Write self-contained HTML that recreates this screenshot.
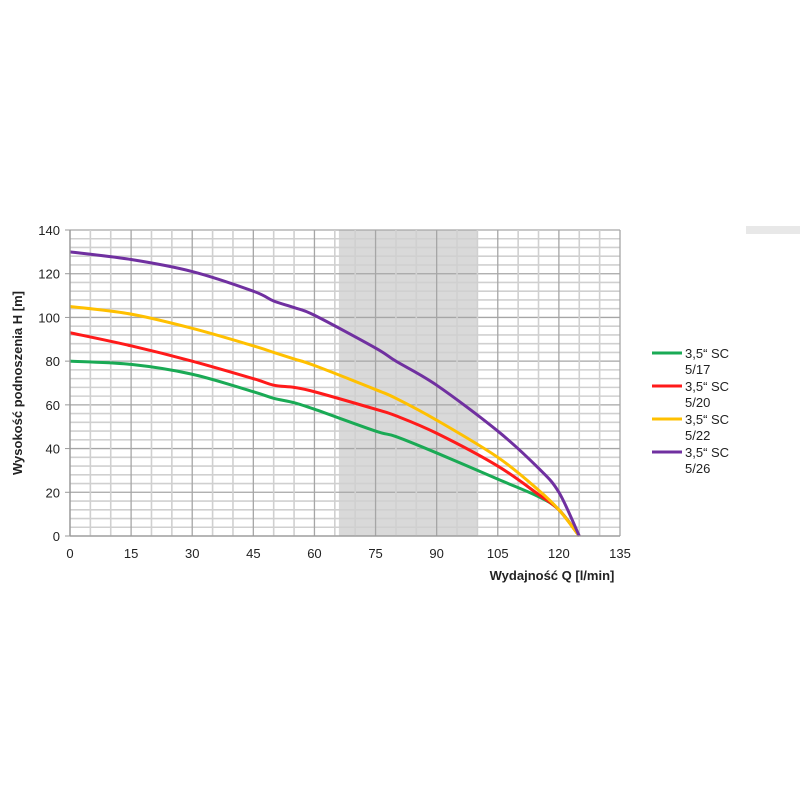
<!DOCTYPE html>
<html><head><meta charset="utf-8"><style>
body{margin:0;background:#fff;font-family:"Liberation Sans",sans-serif}
svg text{font-family:"Liberation Sans",sans-serif}
</style></head><body>
<svg width="800" height="800" viewBox="0 0 800 800">
<rect x="746" y="226" width="54" height="8" fill="#e8e8e8"/>
<g id="grid"></g><g id="series"></g><g id="axes"></g>
<text x="552" y="580" font-size="13" font-weight="bold" text-anchor="middle" fill="#222">Wydajność Q [l/min]</text>
<text transform="translate(22,383) rotate(-90)" font-size="13" font-weight="bold" text-anchor="middle" fill="#222">Wysokość podnoszenia H [m]</text>
<g id="legend"></g>
</svg>
<script>
const qValues=[0,15,30,45,50,55,60,75,80,90,105,115,120,125];
const names=["3,5“ SC|5/17","3,5“ SC|5/20","3,5“ SC|5/22","3,5“ SC|5/26"];
const colors=["#1aaa55","#ff1a1a","#ffc000","#7030a0"];
const green=[80,78.5,74,66,63,61,58,48,45.5,38,26,18,12,0];
const red=[93,87,80,72,69,68,66,58,55,47,32,19,12,0];
const yellow=[105,101.5,95,87,84,81,78,67,63,53,36,21,12,0];
const purple=[130,126.5,121,112,107.5,104.5,101,86,80,69,48,31,20,0];
const seriesVals=[green,red,yellow,purple];
const xTicks=[0,15,30,45,60,75,90,105,120,135];
const yTicks=[0,20,40,60,80,100,120,140];
const shadeRange=[66,100];
const NS="http://www.w3.org/2000/svg";
const X0=70,X1=620,Y0=536,Y1=230;
const sx=q=>X0+(q/135)*(X1-X0), sy=h=>Y0-(h/140)*(Y0-Y1);
function mk(t,a,p){const e=document.createElementNS(NS,t);for(const k in a)e.setAttribute(k,a[k]);p.appendChild(e);return e;}
const grid=document.getElementById('grid');
const sh=mk('rect',{x:sx(shadeRange[0]),y:Y1,width:sx(shadeRange[1])-sx(shadeRange[0]),height:Y0-Y1,fill:'#d9d9d9'},grid);


for(let h=0;h<=140;h+=4){const l=mk('line',{x1:X0,x2:X1,y1:sy(h),y2:sy(h),stroke:h%20===0?'#a6a6a6':'#d0d0d0','stroke-width':h%20===0?1.3:1.6},grid);

}
for(let q=0;q<=135;q+=5){const l=mk('line',{x1:sx(q),x2:sx(q),y1:Y1,y2:Y0,stroke:q%15===0?'#a6a6a6':'#d0d0d0','stroke-width':q%15===0?1.3:1.6},grid);

}
const sg=document.getElementById('series');
seriesVals.forEach((vals,i)=>{
 const pts=qValues.map((q,j)=>[sx(q),sy(vals[j])]);
 let d='M'+pts[0][0]+','+pts[0][1];
 for(let j=0;j<pts.length-1;j++){const p0=pts[j-1]||pts[j],p1=pts[j],p2=pts[j+1],p3=pts[j+2]||p2;
  const c1=[p1[0]+(p2[0]-p0[0])/6,p1[1]+(p2[1]-p0[1])/6],c2=[p2[0]-(p3[0]-p1[0])/6,p2[1]-(p3[1]-p1[1])/6];
  d+=` C${c1[0]},${c1[1]} ${c2[0]},${c2[1]} ${p2[0]},${p2[1]}`;}
 const p=mk('path',{d,fill:'none',stroke:colors[i],'stroke-width':3,'stroke-linejoin':'round'},sg);
 
 
});
const ax=document.getElementById('axes');
const xl=mk('line',{x1:X0,x2:X1,y1:Y0,y2:Y0,stroke:'#999','stroke-width':1.3},ax);


const yl=mk('line',{x1:X0,x2:X0,y1:Y1,y2:Y0,stroke:'#999','stroke-width':1.3},ax);


xTicks.forEach(q=>{const t=mk('text',{x:sx(q),y:Y0+22,'font-size':13,'text-anchor':'middle',fill:'#222'},ax);t.textContent=q;

});
yTicks.forEach(h=>{const t=mk('text',{x:X0-10,y:sy(h)+5,'font-size':13,'text-anchor':'end',fill:'#222'},ax);t.textContent=h;


const k=mk('line',{x1:X0-5,x2:X0,y1:sy(h),y2:sy(h),stroke:'#999'},ax);

});
const lg=document.getElementById('legend');
names.forEach((n,i)=>{const y=353+i*33;
 const g=mk('g',{},lg);
 
 
 mk('line',{x1:652,x2:682,y1:y,y2:y,stroke:colors[i],'stroke-width':3},g);
 const parts=n.split('|');
 const t1=mk('text',{x:685,y:y+5,'font-size':13,fill:'#222'},g);t1.textContent=parts[0];
 const t2=mk('text',{x:685,y:y+21,'font-size':13,fill:'#222'},g);t2.textContent=parts[1];
});
</script>
</body></html>
